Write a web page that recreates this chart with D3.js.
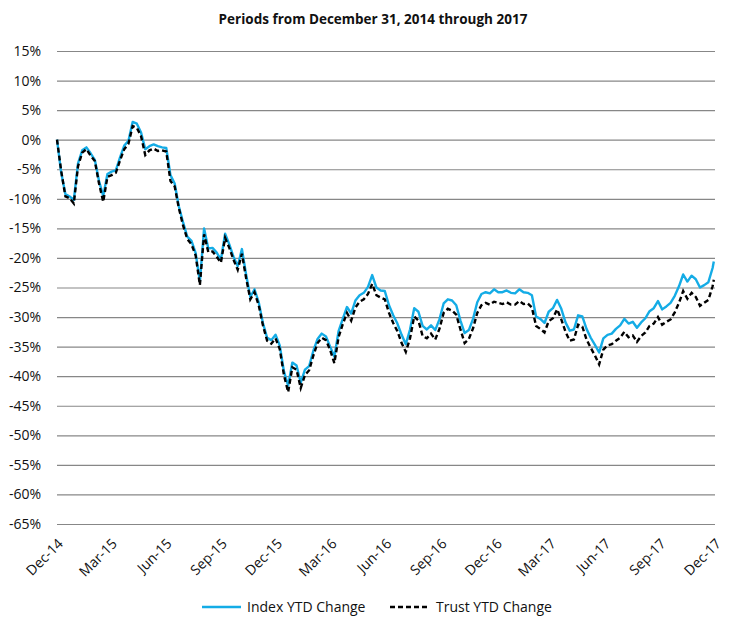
<!DOCTYPE html>
<html>
<head>
<meta charset="utf-8">
<script src="https://cdn.jsdelivr.net/npm/d3@7"></script>
<style>
  body { margin: 0; background: #fff; }
  text { font-family: "Open Sans", sans-serif; fill: #111; }
</style>
</head>
<body>
<div id="wrapper"></div>
<script>
// weekly closes, Dec 31 2014 through Dec 29 2017
const dates = [
  "2014-12-31",
  "2015-01-07","2015-01-14","2015-01-21","2015-01-28","2015-02-04","2015-02-11","2015-02-18","2015-02-25",
  "2015-03-04","2015-03-11","2015-03-18","2015-03-25","2015-04-01","2015-04-08","2015-04-15","2015-04-22","2015-04-29",
  "2015-05-06","2015-05-13","2015-05-20","2015-05-27","2015-06-03","2015-06-10","2015-06-17","2015-06-24",
  "2015-07-01","2015-07-08","2015-07-15","2015-07-22","2015-07-29","2015-08-05","2015-08-12","2015-08-19","2015-08-26",
  "2015-09-02","2015-09-09","2015-09-16","2015-09-23","2015-09-30","2015-10-07","2015-10-14","2015-10-21","2015-10-28",
  "2015-11-04","2015-11-11","2015-11-18","2015-11-25","2015-12-02","2015-12-09","2015-12-16","2015-12-23","2015-12-30",
  "2016-01-06","2016-01-13","2016-01-20","2016-01-27","2016-02-03","2016-02-10","2016-02-17","2016-02-24",
  "2016-03-02","2016-03-09","2016-03-16","2016-03-23","2016-03-30","2016-04-06","2016-04-13","2016-04-20","2016-04-27",
  "2016-05-04","2016-05-11","2016-05-18","2016-05-25","2016-06-01","2016-06-08","2016-06-15","2016-06-22","2016-06-29",
  "2016-07-06","2016-07-13","2016-07-20","2016-07-27","2016-08-03","2016-08-10","2016-08-17","2016-08-24","2016-08-31",
  "2016-09-07","2016-09-14","2016-09-21","2016-09-28","2016-10-05","2016-10-12","2016-10-19","2016-10-26",
  "2016-11-02","2016-11-09","2016-11-16","2016-11-23","2016-11-30","2016-12-07","2016-12-14","2016-12-21","2016-12-28",
  "2017-01-04","2017-01-11","2017-01-18","2017-01-25","2017-02-01","2017-02-08","2017-02-15","2017-02-22",
  "2017-03-01","2017-03-08","2017-03-15","2017-03-22","2017-03-29","2017-04-05","2017-04-12","2017-04-19","2017-04-26",
  "2017-05-03","2017-05-10","2017-05-17","2017-05-24","2017-05-31","2017-06-07","2017-06-14","2017-06-21","2017-06-28",
  "2017-07-05","2017-07-12","2017-07-19","2017-07-26","2017-08-02","2017-08-09","2017-08-16","2017-08-23","2017-08-30",
  "2017-09-06","2017-09-13","2017-09-20","2017-09-27","2017-10-04","2017-10-11","2017-10-18","2017-10-25",
  "2017-11-01","2017-11-08","2017-11-15","2017-11-22","2017-11-29","2017-12-06","2017-12-13","2017-12-20","2017-12-27",
  "2017-12-29"
];

const indexYTD = [
  0.0,
  -5.6, -9.2, -9.6, -10.2, -4.0, -1.8, -1.3, -2.3,
  -3.4, -7.0, -9.5, -5.8, -5.4, -5.2, -3.0, -1.0, -0.2,
  3.0, 2.7, 1.2, -1.6, -1.1, -0.8, -1.1, -1.3,
  -1.4, -6.0, -7.4, -11.3, -14.0, -16.4, -17.1, -19.2, -24.0,
  -15.0, -18.4, -18.3, -19.1, -20.3, -15.9, -17.7, -19.8, -21.4,
  -18.5, -22.8, -26.6, -25.3, -27.5, -31.0, -33.5, -33.9, -33.0,
  -34.8, -39.2, -41.6, -37.7, -38.2, -41.1, -38.9, -38.3,
  -35.7, -33.7, -32.8, -33.3, -35.0, -36.7, -32.4, -30.3, -28.3,
  -29.4, -27.2, -26.3, -25.9, -24.9, -22.9, -25.0, -25.5, -25.6,
  -28.0, -29.7, -31.1, -33.0, -34.6, -32.1, -28.5, -29.1, -31.5,
  -32.1, -31.4, -32.2, -30.4, -27.7, -27.0, -27.2, -28.0,
  -30.6, -32.7, -32.2, -30.3, -27.5, -26.1, -25.8, -26.0, -25.3,
  -25.8, -25.8, -25.5, -25.9, -26.0, -25.3, -25.8, -25.9,
  -26.3, -29.9, -30.3, -31.0, -29.1, -28.5, -27.1, -28.6, -30.9,
  -32.3, -32.1, -29.7, -29.9, -32.0, -33.5, -34.7, -36.0, -33.6,
  -33.0, -32.8, -32.0, -31.4, -30.3, -31.1, -30.8, -31.8, -30.9,
  -30.2, -29.0, -28.5, -27.3, -28.7, -28.2, -27.6, -26.4,
  -24.8, -22.8, -24.0, -23.0, -23.6, -25.0, -24.6, -24.1, -21.7,
  -20.6
];

const trustYTD = [
  0.0,
  -5.3, -9.6, -9.9, -10.8, -4.5, -2.2, -1.6, -2.7,
  -3.6, -7.4, -10.5, -6.3, -6.0, -5.6, -3.5, -1.6, -0.7,
  2.3, 2.0, 0.6, -2.6, -1.8, -1.5, -1.9, -1.8,
  -2.0, -7.0, -7.9, -11.6, -14.5, -16.8, -17.7, -19.6, -24.6,
  -16.0, -19.0, -18.9, -19.8, -20.8, -16.6, -18.3, -20.3, -22.0,
  -19.3, -23.4, -27.0, -25.8, -28.0, -31.4, -34.0, -34.5, -33.6,
  -35.4, -39.8, -42.7, -38.5, -38.9, -42.0, -39.8, -39.0,
  -36.5, -34.4, -33.5, -33.9, -35.6, -37.8, -33.4, -31.2, -29.3,
  -30.6, -28.4, -27.4, -27.0, -26.1, -24.4, -26.3, -26.7, -27.0,
  -29.3, -31.0, -32.4, -34.4, -35.9, -33.6, -29.9, -30.6, -33.2,
  -33.6, -32.8, -33.8, -32.0, -29.3, -28.6, -28.9, -29.6,
  -32.1, -34.4, -33.7, -31.9, -29.3, -28.0, -27.6, -27.9, -27.4,
  -27.6, -27.8, -27.5, -27.9, -27.9, -27.3, -27.8, -27.7,
  -28.4, -31.5, -32.0, -32.6, -30.7, -30.2, -28.7, -30.4, -32.5,
  -34.0, -33.8, -31.3, -31.6, -33.8, -35.2, -36.5, -38.0, -35.5,
  -34.8, -34.6, -34.0, -33.5, -32.5, -33.4, -33.1, -34.2, -33.2,
  -32.6, -31.5, -31.1, -30.0, -31.3, -30.8, -30.4, -29.2,
  -27.6, -25.6, -26.9, -25.9, -26.6, -28.1, -27.6, -27.1, -24.8,
  -23.7
];

const xTicks = [
  "2014-12-31","2015-03-31","2015-06-30","2015-09-30","2015-12-31","2016-03-31","2016-06-30",
  "2016-09-30","2016-12-31","2017-03-31","2017-06-30","2017-09-30","2017-12-31"
];
const yTicks = [15, 10, 5, 0, -5, -10, -15, -20, -25, -30, -35, -40, -45, -50, -55, -60, -65];

const seriesNames = ["Index YTD Change", "Trust YTD Change"];
const title = "Periods from December 31, 2014 through 2017";

function buildPlot() {
    var dimension = {
        width: 746,
        height: 631,
        margin: { top: 51, left: 57, bottom: 107, right: 31 }
    };
    dimension.boundedWidth = dimension.width - dimension.margin.left - dimension.margin.right;
    dimension.boundedHeight = dimension.height - dimension.margin.top - dimension.margin.bottom;

    const parse = d3.timeParse("%Y-%m-%d");
    const points = dates.map((d, i) => ({ date: parse(d), index: indexYTD[i], trust: trustYTD[i] }));

    const svg = d3.select("#wrapper").append("svg")
        .attr("width", dimension.width)
        .attr("height", dimension.height);

    svg.append("rect")
        .attr("width", dimension.width)
        .attr("height", dimension.height)
        .attr("fill", "#fff");

    svg.append("text")
        .attr("x", 373)
        .attr("y", 24)
        .attr("text-anchor", "middle")
        .style("font-weight", "bold")
        .style("font-size", "13.5px")
        .text(title);

    const bounds = svg.append("g")
        .attr("transform", `translate(${dimension.margin.left}, ${dimension.margin.top})`);

    const xScaler = d3.scaleTime()
        .domain([parse(xTicks[0]), parse(xTicks[xTicks.length - 1])])
        .range([0, dimension.boundedWidth]);

    const yScaler = d3.scaleLinear()
        .domain([-65, 15])
        .range([dimension.boundedHeight, 0]);

    // y axis with gridlines
    const yAxis = bounds.append("g")
        .call(d3.axisLeft(yScaler)
            .tickValues(yTicks)
            .tickSize(-dimension.boundedWidth)
            .tickPadding(16)
            .tickFormat(d => d + "%"));
    yAxis.select(".domain").remove();
    yAxis.selectAll(".tick line")
        .attr("stroke", "#878787")
        .attr("stroke-width", 1.2);
    yAxis.selectAll(".tick text")
        .style("font-size", "14px")
        .attr("fill", "#111");

    // x axis, rotated labels
    const xAxis = bounds.append("g")
        .attr("transform", `translate(0, ${dimension.boundedHeight})`)
        .call(d3.axisBottom(xScaler)
            .tickValues(xTicks.map(parse))
            .tickSize(0)
            .tickFormat(d3.timeFormat("%b-%y")));
    xAxis.select(".domain").remove();
    xAxis.selectAll(".tick text")
        .style("font-size", "14px")
        .attr("fill", "#111")
        .attr("text-anchor", "end")
        .attr("y", 0)
        .attr("dy", "0.35em")
        .attr("transform", "translate(3, 17) rotate(-45)");

    const indexLine = d3.line()
        .x(d => xScaler(d.date))
        .y(d => yScaler(d.index));
    const trustLine = d3.line()
        .x(d => xScaler(d.date))
        .y(d => yScaler(d.trust));

    bounds.append("path")
        .datum(points)
        .attr("d", indexLine)
        .attr("fill", "none")
        .attr("stroke", "#14ACE6")
        .attr("stroke-width", 2.4)
        .attr("stroke-linejoin", "round");

    bounds.append("path")
        .datum(points)
        .attr("d", trustLine)
        .attr("fill", "none")
        .attr("stroke", "#000")
        .attr("stroke-width", 2.4)
        .attr("stroke-dasharray", "5,3");

    // legend
    const legend = svg.append("g").attr("transform", "translate(0, 607)");
    const items = [
        { name: seriesNames[0], x: 202, stroke: "#14ACE6", dash: null, tx: 247 },
        { name: seriesNames[1], x: 390, stroke: "#000", dash: "5,3", tx: 436 }
    ];
    items.forEach(it => {
        legend.append("line")
            .attr("x1", it.x).attr("x2", it.x + 39)
            .attr("y1", 0).attr("y2", 0)
            .attr("stroke", it.stroke)
            .attr("stroke-width", 2.4)
            .attr("stroke-dasharray", it.dash);
        legend.append("text")
            .attr("x", it.tx)
            .attr("y", 0)
            .attr("dy", "0.35em")
            .style("font-size", "14px")
            .text(it.name);
    });
}

buildPlot();
</script>
</body>
</html>
